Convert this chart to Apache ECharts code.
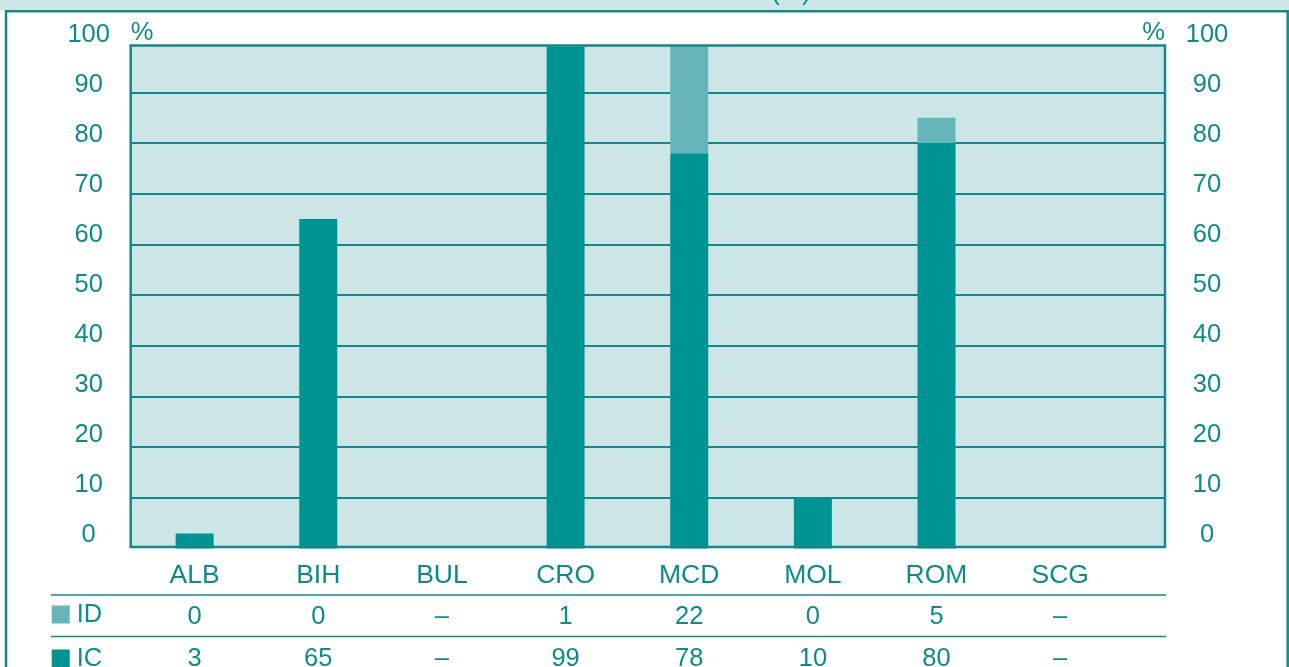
<!DOCTYPE html>
<html>
<head>
<meta charset="utf-8">
<script src="https://cdn.jsdelivr.net/npm/echarts@6/dist/echarts.min.js"></script>
<style>
html,body{margin:0;padding:0;background:#ffffff;}
#chart{width:1289px;height:667px;}
</style>
</head>
<body>
<div id="chart"></div>
<script>
const categories = ['ALB', 'BIH', 'BUL', 'CRO', 'MCD', 'MOL', 'ROM', 'SCG'];
const icValues = [3, 65, null, 99, 78, 10, 80, null];
const idValues = [0, 0, null, 1, 22, 0, 5, null];
const seriesNames = ['ID', 'IC'];
const titleText = '(%)';
const unitLabel = '%';

const TEAL_TEXT = '#0e8a8c';
const TEAL_LINE = '#14878a';
const DARK = '#009394';
const LIGHT = '#66b5b8';
const BG = '#cce5e6';
const FONT = '"Liberation Sans", Arial, Helvetica, sans-serif';
const FS = 25.5;
const FS_CAT = 26.5;

const fmt = v => (v === null || v === undefined) ? '\u2013' : String(v);

const chart = echarts.init(document.getElementById('chart'), null, {renderer: 'canvas'});

const frame = {left: 130.7, top: 45.5, right: 1165, bottom: 547};

const option = {
  animation: false,
  backgroundColor: '#ffffff',
  textStyle: {fontFamily: FONT},
  legend: {
    orient: 'vertical',
    left: 51.7,
    top: 601.5,
    height: 150,
    padding: 0,
    itemWidth: 18,
    itemHeight: 18,
    itemGap: 18,
    icon: 'rect',
    data: seriesNames,
    textStyle: {fontFamily: FONT, fontSize: FS, color: TEAL_TEXT, padding: [0, 0, 0, 2]}
  },
  grid: [
    {left: 130.7, right: 1289 - 1165, top: 41.7, bottom: 667 - 548.6, outerBoundsMode: 'none', containLabel: false},
    {left: 132.8, width: 989.2, top: 45, bottom: 667 - 548.6, outerBoundsMode: 'none', containLabel: false},
    {left: 130.7, right: 1289 - 1165, top: 35, bottom: 667 - 535, outerBoundsMode: 'none', containLabel: false}
  ],
  xAxis: [
    {gridIndex: 0, type: 'category', data: categories, show: false},
    {
      gridIndex: 1, type: 'category', data: categories,
      axisLine: {show: false}, axisTick: {show: false},
      axisLabel: {
        interval: 0, margin: 7, verticalAlign: 'top',
        formatter: (val, i) => '{c|' + val + '}\n{v|' + fmt(idValues[i]) + '}\n{v|' + fmt(icValues[i]) + '}',
        rich: {
          c: {fontFamily: FONT, fontSize: FS_CAT, color: TEAL_TEXT, lineHeight: 40, align: 'center'},
          v: {fontFamily: FONT, fontSize: FS, color: TEAL_TEXT, lineHeight: 42, align: 'center'}
        }
      }
    },
    {gridIndex: 2, type: 'category', data: categories, show: false}
  ],
  yAxis: [
    {
      gridIndex: 0, type: 'value', min: 0, max: 100, interval: 10,
      axisLine: {show: false}, axisTick: {show: false}, axisLabel: {show: false},
      splitLine: {show: true, showMinLine: false, showMaxLine: false, lineStyle: {color: TEAL_LINE, width: 2}}
    },
    {
      gridIndex: 1, type: 'value', min: 0, max: 99.35, show: false,
      splitLine: {show: false}
    },
    {
      gridIndex: 2, type: 'value', position: 'left', min: 0, max: 100, interval: 10,
      axisLine: {show: false}, axisTick: {show: false}, splitLine: {show: false},
      axisLabel: {margin: 42, align: 'center', fontFamily: FONT, fontSize: FS, color: TEAL_TEXT},
      name: unitLabel, nameLocation: 'end', nameGap: 2,
      nameTextStyle: {fontFamily: FONT, fontSize: FS, color: TEAL_TEXT, align: 'left', verticalAlign: 'middle'}
    },
    {
      gridIndex: 2, type: 'value', position: 'right', min: 0, max: 100, interval: 10,
      axisLine: {show: false}, axisTick: {show: false}, splitLine: {show: false},
      axisLabel: {margin: 42, align: 'center', fontFamily: FONT, fontSize: FS, color: TEAL_TEXT},
      name: unitLabel, nameLocation: 'end', nameGap: 2,
      nameTextStyle: {fontFamily: FONT, fontSize: FS, color: TEAL_TEXT, align: 'right', verticalAlign: 'middle'}
    }
  ],
  series: [
    {
      name: seriesNames[1], type: 'bar', xAxisIndex: 1, yAxisIndex: 1, stack: 'total',
      barWidth: 38, data: icValues, itemStyle: {color: DARK}, clip: true, z: 5
    },
    {
      name: seriesNames[0], type: 'bar', xAxisIndex: 1, yAxisIndex: 1, stack: 'total',
      barWidth: 38, data: idValues, itemStyle: {color: LIGHT}, clip: true, z: 5
    }
  ],
  graphic: [
    {type: 'rect', z: -20, shape: {x: 0, y: 0, width: 1289, height: 10}, style: {fill: BG}},
    {type: 'rect', z: -19, shape: {x: 6, y: 11.2, width: 1281.7, height: 700}, style: {fill: 'none', stroke: TEAL_LINE, lineWidth: 2.5}},
    {type: 'text', z: -18, x: 791, y: -7, style: {text: titleText, font: FS + 'px ' + FONT, fill: TEAL_TEXT, textAlign: 'center', textVerticalAlign: 'middle'}},
    {type: 'rect', z: -10, shape: {x: frame.left, y: frame.top, width: frame.right - frame.left, height: frame.bottom - frame.top}, style: {fill: BG}},
    {type: 'rect', z: 50, shape: {x: frame.left, y: frame.top, width: frame.right - frame.left, height: frame.bottom - frame.top}, style: {fill: 'none', stroke: TEAL_LINE, lineWidth: 2.5}},
    {type: 'line', z: 10, shape: {x1: 51, y1: 595, x2: 1166, y2: 595}, style: {stroke: TEAL_LINE, lineWidth: 1.5}},
    {type: 'line', z: 10, shape: {x1: 51, y1: 636.5, x2: 1166, y2: 636.5}, style: {stroke: TEAL_LINE, lineWidth: 1.5}}
  ]
};

chart.setOption(option);
</script>
</body>
</html>
